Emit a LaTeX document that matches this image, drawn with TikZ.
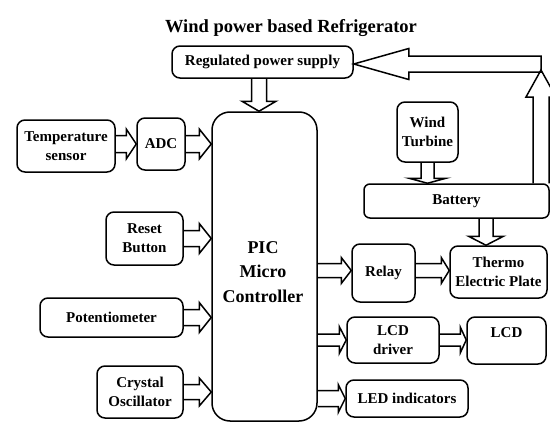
\documentclass[tikz,border=0pt]{standalone}
\usepackage{fontspec}
\setmainfont{Liberation Serif}
\usetikzlibrary{calc}
\tikzset{
  box/.style={draw, line width=1.5pt, rounded corners=8pt, inner sep=0pt, align=center,
    font=\bfseries\fontsize{15}{19}\selectfont},
  fat/.style={draw, line width=1.5pt, line join=miter},
}
% right-pointing hollow arrow: start (x,y), end (x only), shaft half, head half, head length
\newcommand\fatR[5]{\draw[fat] let \p1=#1, \p2=#2 in (\x1,{\y1+#3pt}) -- ({\x2-#5pt},{\y1+#3pt}) -- ({\x2-#5pt},{\y1+#4pt}) -- (\x2,\y1) -- ({\x2-#5pt},{\y1-#4pt}) -- ({\x2-#5pt},{\y1-#3pt}) -- (\x1,{\y1-#3pt});}
\newcommand\fatL[5]{\draw[fat] let \p1=#1, \p2=#2 in (\x1,{\y1+#3pt}) -- ({\x2+#5pt},{\y1+#3pt}) -- ({\x2+#5pt},{\y1+#4pt}) -- (\x2,\y1) -- ({\x2+#5pt},{\y1-#4pt}) -- ({\x2+#5pt},{\y1-#3pt}) -- (\x1,{\y1-#3pt}) -- cycle;}
\newcommand\fatD[5]{\draw[fat] let \p1=#1, \p2=#2 in ({\x1-#3pt},\y1) -- ({\x1-#3pt},{\y2+#5pt}) -- ({\x1-#4pt},{\y2+#5pt}) -- (\x1,\y2) -- ({\x1+#4pt},{\y2+#5pt}) -- ({\x1+#3pt},{\y2+#5pt}) -- ({\x1+#3pt},\y1);}
\newcommand\fatU[5]{\draw[fat] let \p1=#1, \p2=#2 in ({\x1-#3pt},\y1) -- ({\x1-#3pt},{\y2-#5pt}) -- ({\x1-#4pt},{\y2-#5pt}) -- (\x1,\y2) -- ({\x1+#4pt},{\y2-#5pt}) -- ({\x1+#3pt},{\y2-#5pt}) -- ({\x1+#3pt},\y1);}
\begin{document}
\begin{tikzpicture}[x=1pt,y=-1pt]
\useasboundingbox (0,0) rectangle (550,423);
\clip (0,0) rectangle (550,423);

\node[font=\bfseries\fontsize{18.5}{22}\selectfont] (title) at (291,28) {Wind power based Refrigerator};

\node[box, minimum width=181pt, minimum height=32pt] (reg) at (262.5,62) {Regulated power supply};
\node[box, minimum width=98pt, minimum height=52pt] (temp) at (66,146) {Temperature\\sensor};
\node[box, minimum width=48pt, minimum height=52pt] (adc) at (161,144) {ADC};
\node[box, rounded corners=18pt, minimum width=105pt, minimum height=309pt] (pic) at (264.5,266.5) {};
\node[font=\bfseries\fontsize{18}{24.5}\selectfont, align=center] (pictxt) at (263,272) {PIC\\Micro\\Controller};
\node[box, minimum width=77pt, minimum height=53pt] (reset) at (144.5,238.5) {Reset\\Button};
\node[box, minimum width=143pt, minimum height=39pt] (pot) at (111.5,317.5) {Potentiometer};
\node[box, minimum width=86pt, minimum height=52pt] (crystal) at (140,392) {Crystal\\Oscillator};
\node[box, minimum width=61pt, minimum height=60pt] (turbine) at (427.5,132) {Wind\\Turbine};
\node[box, rounded corners=6pt, minimum width=185pt, minimum height=34pt] (battery) at (456.5,201) {Battery};
\node[box, minimum width=97pt, minimum height=52pt] (thermo) at (498.5,272) {Thermo\\Electric Plate};
\node[box, minimum width=63pt, minimum height=58pt] (relay) at (383.5,273) {Relay};
\node[box, minimum width=92pt, minimum height=46pt] (lcddrv) at (393,340) {LCD\\driver};
\node[box, minimum width=79pt, minimum height=47pt] (lcd) at (506.5,340.5) {LCD\\[-4pt]~};
\node[box, minimum width=122pt, minimum height=37pt] (led) at (407,398.5) {LED indicators};

% arrows
\coordinate (r1) at ([xshift=-3.5pt]reg.south);
\fatD{(r1)}{(pic.north)}{7.5}{17}{10}
\fatR{(temp.east |- adc.west)}{(adc.west)}{8.5}{15}{10}
\fatR{(adc.east)}{(pic.west)}{8.5}{15}{12}
\fatR{(reset.east)}{(pic.west)}{8}{15}{12}
\fatR{(pot.east)}{(pic.west)}{8}{15}{12}
\fatR{(crystal.east)}{(pic.west)}{7.5}{14}{12}
\fatD{(turbine.south)}{(battery.north)}{6.5}{18.5}{5}
\coordinate (t1) at ([xshift=-12.5pt]thermo.north);
\fatD{(t1 |- battery.south)}{(t1)}{7}{17.5}{9}
\coordinate (rl) at ([yshift=2.5pt]relay.west);
\fatR{(pic.east |- rl)}{(rl)}{7}{13}{10}
\fatR{(relay.east |- rl)}{(thermo.west)}{7}{13}{8}
\fatR{(pic.east |- lcddrv.west)}{(lcddrv.west)}{6}{13.5}{7}
\fatR{(lcddrv.east)}{(lcd.west)}{6}{13}{6}
\fatR{(pic.east |- led.west)}{(led.west)}{8}{14}{7}

\coordinate (bend) at (541,64);
\fatL{(bend)}{(reg.east)}{8}{15.5}{55}
\coordinate (tipu) at ([yshift=-6pt]bend);
\fatU{(tipu |- battery.north)}{(tipu)}{8}{15}{27}
\end{tikzpicture}
\end{document}
